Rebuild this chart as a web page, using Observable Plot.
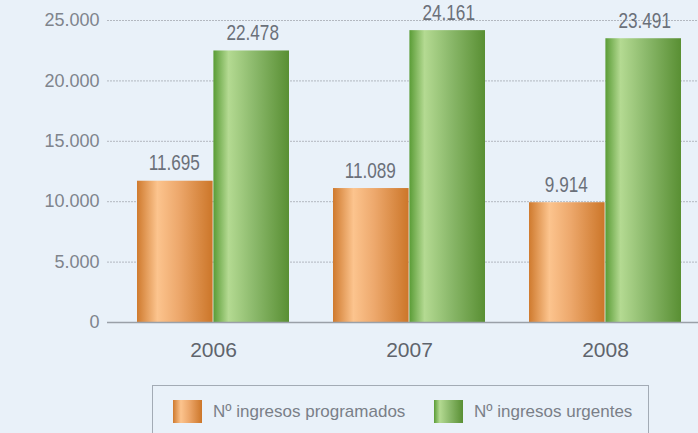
<!DOCTYPE html>
<html>
<head>
<meta charset="utf-8">
<script src="https://cdn.jsdelivr.net/npm/d3@7"></script>
<script src="https://cdn.jsdelivr.net/npm/@observablehq/plot@0.6"></script>
<style>
  html, body { margin: 0; padding: 0; background: #e9f1f9; }
  #wrap { position: relative; width: 698px; height: 433px; overflow: hidden; background: #e9f1f9; }
  #legend {
    position: absolute; left: 152px; top: 385px; width: 497px; height: 70px;
    border: 1px solid #a3abb5; box-sizing: border-box;
    font-family: "Liberation Sans", Arial, sans-serif; font-size: 17px; color: #7a7f88;
  }
  .item { position: absolute; top: 14px; display: flex; align-items: center; }
  .sw { width: 29px; height: 23px; margin-right: 11px; }
</style>
</head>
<body>
<div id="wrap">
  <div id="chart"></div>
  <div id="legend"></div>
</div>
<script>
const years = ["2006", "2007", "2008"];
const programados = [11695, 11089, 9914];
const urgentes = [22478, 24161, 23491];
const seriesNames = ["Nº ingresos programados", "Nº ingresos urgentes"];
const yTicks = [0, 5000, 10000, 15000, 20000, 25000];

const fmt = d => d3.format(",")(d).replace(/,/g, ".");
const rows = years.map((y, i) => ({year: y, prog: programados[i], urg: urgentes[i]}));

const half = 76.4;
const labelFont = "'Liberation Sans', Arial, sans-serif";
const chart = Plot.plot({
  width: 698,
  height: 380,
  marginLeft: 107,
  marginRight: 0,
  marginTop: 20,
  marginBottom: 58,
  style: {background: "transparent", overflow: "visible"},
  x: {domain: years, range: [136, 682], paddingInner: 0.2234, paddingOuter: 0, label: null},
  y: {domain: [0, 25000], label: null},
  marks: [
    Plot.ruleY(yTicks.slice(1), {stroke: "#b3b8c0", strokeDasharray: "2,1", strokeWidth: 1}),
    Plot.barY(rows, {x: "year", y: "prog", fill: "url(#gOrange)", insetRight: half}),
    Plot.barY(rows, {x: "year", y: "urg", fill: "url(#gGreen)", insetLeft: half}),
    Plot.ruleY([0], {stroke: "#9aa0a8", strokeWidth: 1.5}),
    Plot.text(rows, {x: "year", y: "prog", text: d => fmt(d.prog), dx: -half / 2 - 1, dy: -11, lineAnchor: "bottom",
      fontFamily: labelFont, fontSize: 22, fill: "#6b7079", className: "vlab"}),
    Plot.text(rows, {x: "year", y: "urg", text: d => fmt(d.urg), dx: half / 2 + 1, dy: -11, lineAnchor: "bottom",
      fontFamily: labelFont, fontSize: 22, fill: "#6b7079", className: "vlab"}),
    Plot.axisY({ticks: yTicks, tickFormat: fmt, tickSize: 0, tickPadding: 8, fontSize: 18,
      fontFamily: labelFont, fill: "#7f848c"}),
    Plot.axisX({tickSize: 0, tickPadding: 20, fontSize: 21,
      fontFamily: labelFont, fill: "#5f646c"})
  ]
});

const defs = d3.select(chart).insert("defs", ":first-child");
function grad(id, stops) {
  const g = defs.append("linearGradient").attr("id", id).attr("x1", 0).attr("x2", 1).attr("y1", 0).attr("y2", 0);
  stops.forEach(([o, c]) => g.append("stop").attr("offset", o).attr("stop-color", c));
}
const orangeStops = [[0, "#cf7a2e"], [0.27, "#fcc48e"], [0.55, "#eda86c"], [1, "#cc7629"]];
const greenStops = [[0, "#5a9c36"], [0.2, "#b4da92"], [0.55, "#8ab86a"], [1, "#598f33"]];
grad("gOrange", orangeStops);
grad("gGreen", greenStops);

document.getElementById("chart").appendChild(chart);

// narrow (condensed) look for the value labels
d3.select(chart).selectAll(".vlab text").each(function () {
  const w = this.getComputedTextLength();
  this.setAttribute("textLength", (w * 0.78).toFixed(1));
  this.setAttribute("lengthAdjust", "spacingAndGlyphs");
});

const css = stops => "linear-gradient(to right, " + stops.map(([o, c]) => c + " " + (o * 100) + "%").join(", ") + ")";
const legend = document.getElementById("legend");
const lefts = [20, 281];
seriesNames.forEach((name, i) => {
  const it = document.createElement("div");
  it.className = "item";
  it.style.left = lefts[i] + "px";
  const sw = document.createElement("div");
  sw.className = "sw";
  sw.style.background = css(i === 0 ? orangeStops : greenStops);
  const tx = document.createElement("span");
  tx.textContent = name;
  it.appendChild(sw);
  it.appendChild(tx);
  legend.appendChild(it);
});
</script>
</body>
</html>
